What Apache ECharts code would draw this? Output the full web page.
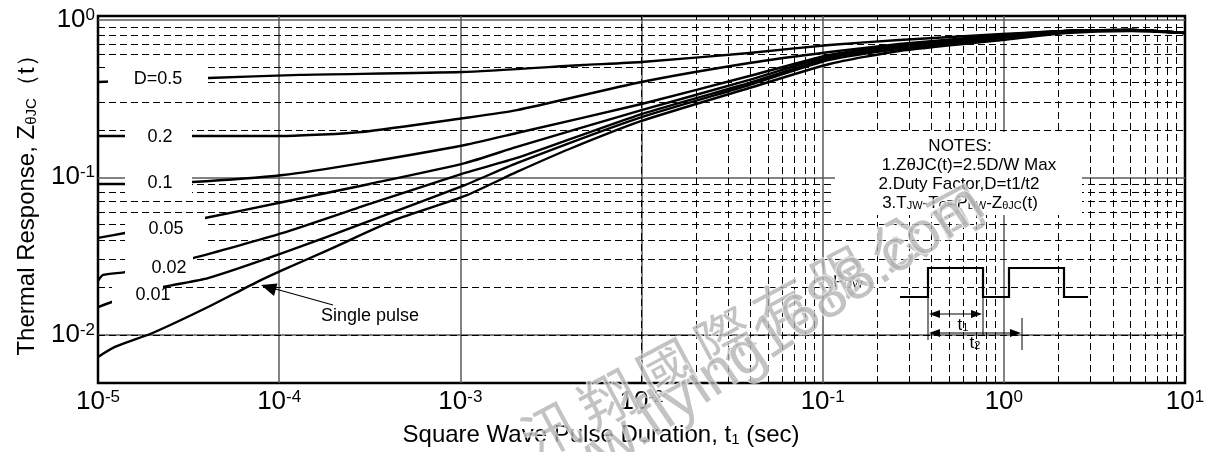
<!DOCTYPE html>
<html><head><meta charset="utf-8">
<script src="https://cdn.jsdelivr.net/npm/echarts@6/dist/echarts.min.js"></script>
<style>html,body{margin:0;padding:0;background:#fff}#c{width:1213px;height:452px}</style>
</head><body><div id="c"></div>
<script>
const FONT = '"Liberation Sans", Arial, Helvetica, sans-serif';
const CJK = '"Noto Sans CJK TC", "Noto Sans CJK SC", sans-serif';

// ---- data (t1 in seconds, Z normalized) ----
const seriesNames = ['D=0.5', '0.2', '0.1', '0.05', '0.02', '0.01', 'Single pulse'];
const d05 = [[1e-5,0.403],[4.05e-5,0.427],[1.3e-4,0.447],[1.02e-3,0.466],[4.73e-3,0.516],[1e-2,0.540],[3.94e-2,0.616],[0.109,0.692],[0.265,0.744],[0.98,0.812],[2.21,0.849],[5.1,0.861],[10,0.824]];
const d02 = [[1e-5,0.183],[3.3e-5,0.183],[1.05e-4,0.183],[2.86e-4,0.194],[1.06e-3,0.238],[2.05e-3,0.267],[1e-2,0.403],[3.94e-2,0.532],[0.109,0.625],[0.265,0.702],[0.98,0.801],[2.21,0.849],[5.1,0.861],[10,0.824]];
const d01 = [[1e-5,0.0906],[1.41e-5,0.0906],[3.3e-5,0.0933],[1.05e-4,0.1033],[2.86e-4,0.123],[1.06e-3,0.1604],[2.05e-3,0.191],[1e-2,0.292],[3.94e-2,0.4395],[0.109,0.598],[0.265,0.692],[0.98,0.789],[2.21,0.849],[5.1,0.861],[10,0.824]];
const d005 = [[1e-5,0.0412],[1.41e-5,0.0443],[3.89e-5,0.0551],[1.05e-4,0.0697],[3.16e-4,0.0907],[1.06e-3,0.123],[2.05e-3,0.156],[1e-2,0.267],[3.94e-2,0.415],[0.109,0.589],[0.265,0.682],[0.98,0.789],[2.21,0.849],[5.1,0.861],[10,0.824]];
const d002 = [[1e-5,0.02196],[1.066e-5,0.02397],[1.41e-5,0.0250],[3.34e-5,0.0307],[1.05e-4,0.0443],[3.16e-4,0.0677],[1.06e-3,0.1065],[2.05e-3,0.1326],[1e-2,0.252],[3.94e-2,0.397],[0.109,0.572],[0.265,0.672],[0.98,0.778],[2.21,0.849],[5.1,0.861],[10,0.824]];
const d001 = [[1e-5,0.0150],[1.19e-5,0.01615],[2.29e-5,0.0201],[4.05e-5,0.0229],[1.05e-4,0.0331],[3.16e-4,0.0528],[1.06e-3,0.0893],[2.05e-3,0.123],[1e-2,0.241],[3.94e-2,0.3855],[0.109,0.556],[0.265,0.653],[0.98,0.766],[2.21,0.837],[5.1,0.861],[10,0.824]];
const single = [[1e-5,0.00723],[1.24e-5,0.00837],[2e-5,0.01026],[4.05e-5,0.0150],[7.35e-5,0.0213],[1.05e-4,0.0258],[1.86e-4,0.0345],[4.35e-4,0.0536],[1.06e-3,0.0761],[2.05e-3,0.1081],[4.0e-3,0.1512],[1e-2,0.2278],[3.94e-2,0.369],[0.109,0.524],[0.265,0.634],[0.98,0.744],[2.21,0.824],[5.1,0.849],[10,0.824]];
const curves = [d05, d02, d01, d005, d002, d001, single];

// axis ranges
const xMin = 1e-5, xMax = 10;
const yMin = 0.00494, yMax = 1.057;
const notes = ['NOTES:', '1.ZθJC(t)=2.5D/W Max', '2.Duty Factor,D=t1/t2', '3.T{s|JW}-T{s|C}=P{s|DW}-Z{s|θJC}(t)'];
const watermarkCn = '汛翔國際有限公司';
const watermarkUrl = 'www.flying1688.com';

// minor grid positions
const xMinor = [], yMinor = [];
for (let e = -5; e < 1; e++) for (let m = 2; m < 10; m++) xMinor.push(m * Math.pow(10, e));
for (let e = -3; e < 0; e++) for (let m = 2; m < 10; m++) { const v = m * Math.pow(10, e); if (v > 0.0055 && v < yMax) yMinor.push(v); }

function powLabel(v) {
  const l = Math.log10(v), e = Math.round(l);
  if (Math.abs(l - e) > 1e-6) return '';
  return '{b|10}{s|' + e + '}';
}
const labelRich = {
  b: { fontSize: 26, fontFamily: FONT, color: '#000' },
  s: { fontSize: 17, fontFamily: FONT, color: '#000', verticalAlign: 'top' }
};

// ---- layout of annotations (pixels) ----
const curveLabelLayout = [
  { box: [108, 67, 100, 25], tx: 158, ty: 79 },
  { box: [125, 125, 67, 24], tx: 160, ty: 137 },
  { box: [125, 172, 67, 24], tx: 160, ty: 183 },
  { box: [125, 215, 80, 27], tx: 166, ty: 229 },
  { box: [125, 255, 68, 24], tx: 169, ty: 268 },
  { box: [112, 284, 51, 24], tx: 153, ty: 295 }
];

const G = [];
curveLabelLayout.forEach((l, i) => {
  G.push({ type: 'rect', silent: true, z: 50, shape: { x: l.box[0], y: l.box[1], width: l.box[2], height: l.box[3] }, style: { fill: '#fff' } });
  G.push({ type: 'text', silent: true, z: 51, x: l.tx, y: l.ty, style: { text: seriesNames[i], fontSize: 18, fontFamily: FONT, fill: '#000', align: 'center', verticalAlign: 'middle' } });
});
// single pulse label + arrow
G.push({ type: 'rect', silent: true, z: 50, shape: { x: 312, y: 305, width: 134, height: 22 }, style: { fill: '#fff' } });
G.push({ type: 'text', silent: true, z: 51, x: 370, y: 316, style: { text: seriesNames[6], fontSize: 18, fontFamily: FONT, fill: '#000', align: 'center', verticalAlign: 'middle' } });
G.push({ type: 'line', silent: true, z: 51, shape: { x1: 272, y1: 288, x2: 333, y2: 305 }, style: { stroke: '#000', lineWidth: 1.2 } });
G.push({ type: 'polygon', silent: true, z: 51, shape: { points: [[261, 285], [277.5, 283.5], [274, 296]] }, style: { fill: '#000' } });

// notes box
G.push({ type: 'rect', silent: true, z: 50, shape: { x: 835, y: 132, width: 247, height: 83 }, style: { fill: '#fff' } });
const noteX = [960, 969, 959, 960], noteY = [146, 165, 184, 203];
notes.forEach((t, i) => {
  G.push({ type: 'text', silent: true, z: 51, x: noteX[i], y: noteY[i], style: { text: t, fontSize: 17, fontFamily: FONT, fill: '#000', align: 'center', verticalAlign: 'middle', rich: { s: { fontSize: 11, fontFamily: FONT, fill: '#000', verticalAlign: 'bottom' } } } });
});

// pulse diagram
G.push({ type: 'polyline', silent: true, z: 52, shape: { points: [[900,297],[928,297],[928,268],[983,268],[983,297],[1009,297],[1009,268],[1064,268],[1064,297],[1088,297]] }, style: { stroke: '#000', lineWidth: 2.2, fill: null } });
G.push({ type: 'rect', silent: true, z: 50, shape: { x: 831, y: 270, width: 40, height: 20 }, style: { fill: '#fff' } });
G.push({ type: 'text', silent: true, z: 52, x: 833, y: 282, style: { text: 'P{s|DW}', fontSize: 17, fontFamily: FONT, fill: '#000', align: 'left', verticalAlign: 'middle', rich: { s: { fontSize: 11, fontFamily: FONT, fill: '#000', verticalAlign: 'bottom' } } } });
function hArrow(x1, x2, y) {
  G.push({ type: 'line', silent: true, z: 52, shape: { x1: x1 + 4, y1: y, x2: x2 - 4, y2: y }, style: { stroke: '#000', lineWidth: 1.2 } });
  G.push({ type: 'polygon', silent: true, z: 52, shape: { points: [[x1, y], [x1 + 11, y - 4], [x1 + 11, y + 4]] }, style: { fill: '#000' } });
  G.push({ type: 'polygon', silent: true, z: 52, shape: { points: [[x2, y], [x2 - 11, y - 4], [x2 - 11, y + 4]] }, style: { fill: '#000' } });
}
hArrow(929, 982, 314);
hArrow(929, 1021, 333);
[[928, 297, 340], [983, 297, 336], [1022, 318, 350]].forEach(v => G.push({ type: 'line', silent: true, z: 52, shape: { x1: v[0], y1: v[1], x2: v[0], y2: v[2] }, style: { stroke: '#000', lineWidth: 1 } }));
G.push({ type: 'text', silent: true, z: 52, x: 963, y: 325, style: { text: 't{s|1}', fontSize: 17, fontFamily: FONT, fill: '#000', align: 'center', verticalAlign: 'middle', rich: { s: { fontSize: 11, fontFamily: FONT, fill: '#000', verticalAlign: 'bottom' } } } });
G.push({ type: 'text', silent: true, z: 52, x: 975, y: 343, style: { text: 't{s|2}', fontSize: 17, fontFamily: FONT, fill: '#000', align: 'center', verticalAlign: 'middle', rich: { s: { fontSize: 11, fontFamily: FONT, fill: '#000', verticalAlign: 'bottom' } } } });

// watermark
const angCn = 28 * Math.PI / 180;
Array.from(watermarkCn).forEach((ch, i) => {
  G.push({ type: 'text', silent: true, z: 200, x: 550 + i * 58, y: 430 - i * 31, rotation: angCn,
    style: { text: ch, fontSize: 56, fontFamily: CJK, fill: 'rgba(175,175,175,0.75)', stroke: 'rgba(255,255,255,0.7)', lineWidth: 2, align: 'center', verticalAlign: 'middle' } });
});
const angUrl = 34 * Math.PI / 180;
G.push({ type: 'text', silent: true, z: 200, x: 752, y: 352, rotation: angUrl,
  style: { text: watermarkUrl, fontSize: 60, fontFamily: FONT, fill: 'rgba(175,175,175,0.75)', stroke: 'rgba(255,255,255,0.7)', lineWidth: 2, align: 'center', verticalAlign: 'middle' } });

const chart = echarts.init(document.getElementById('c'), null, { renderer: 'canvas' });
const series = curves.map((d, i) => ({
  name: seriesNames[i], type: 'line', data: d, z: 3, symbol: 'none', smooth: 0.2,
  lineStyle: { color: '#000', width: 2.4, join: 'round' }, silent: true
}));
series.push({
  type: 'line', data: [[1e-5, 0.01]], symbol: 'none', z: 1, silent: true, lineStyle: { opacity: 0 },
  markLine: {
    silent: true, z: 1, symbol: ['none', 'none'], label: { show: false }, animation: false,
    lineStyle: { color: '#000', width: 1, type: [7, 4] }, emphasis: { disabled: true },
    data: xMinor.map(v => ({ xAxis: v })).concat(yMinor.map(v => ({ yAxis: v })))
  }
});

chart.setOption({
  animation: false,
  backgroundColor: '#fff',
  grid: { left: 98, right: 28, top: 16, bottom: 69, show: true, borderColor: '#000', borderWidth: 2.5 },
  xAxis: {
    type: 'log', logBase: 10, min: xMin, max: xMax,
    axisLine: { show: false }, axisTick: { show: false },
    splitLine: { show: true, showMinLine: false, showMaxLine: false, lineStyle: { color: '#5a5a5a', width: 1.5 } },
    axisLabel: { formatter: powLabel, margin: 6, rich: labelRich },
    name: 'Square Wave Pulse Duration, t{sub|1} (sec)', nameLocation: 'middle', nameGap: 40,
    nameTextStyle: { fontSize: 24, fontFamily: FONT, color: '#000', padding: [0, 81, 0, 0], rich: { sub: { fontSize: 15, fontFamily: FONT, color: '#000', verticalAlign: 'bottom' } } }
  },
  yAxis: {
    type: 'log', logBase: 10, min: yMin, max: yMax,
    axisLine: { show: false }, axisTick: { show: false },
    splitLine: { show: true, showMinLine: false, showMaxLine: false, lineStyle: { color: '#5a5a5a', width: 1.5 } },
    axisLabel: { formatter: powLabel, margin: 3, rich: labelRich },
    name: 'Thermal Response, Z{sub|θJC}（t）', nameLocation: 'middle', nameGap: 59,
    nameTextStyle: { fontSize: 24, fontFamily: FONT, color: '#000', rich: { sub: { fontSize: 15, fontFamily: FONT, color: '#000', verticalAlign: 'bottom' } } }
  },
  series: series,
  graphic: { elements: G }
});
</script>
</body></html>
